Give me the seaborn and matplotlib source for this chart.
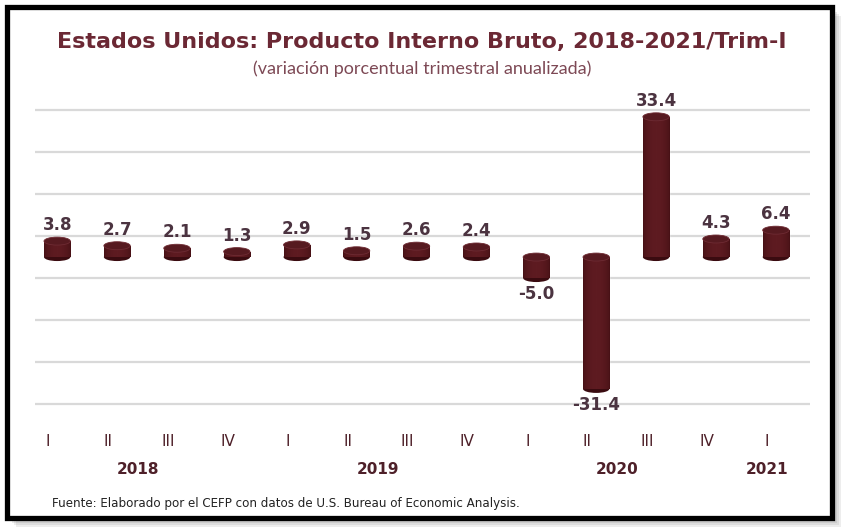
import numpy as np
import pandas as pd
import matplotlib.pyplot as plt
import matplotlib.transforms as mtransforms
from matplotlib.patches import Rectangle, Ellipse
from matplotlib.colors import LinearSegmentedColormap
import seaborn as sns

# datos: variación porcentual trimestral anualizada
trimestres = ["I", "II", "III", "IV", "I", "II", "III", "IV", "I", "II", "III", "IV", "I"]
anios = ["2018", "2018", "2018", "2018", "2019", "2019", "2019", "2019",
         "2020", "2020", "2020", "2020", "2021"]
valores = [3.8, 2.7, 2.1, 1.3, 2.9, 1.5, 2.6, 2.4, -5.0, -31.4, 33.4, 4.3, 6.4]
etiquetas_anio = ["2018", "2019", "2020", "2021"]
pos_anio = [1.5, 5.5, 9.5, 12]

df = pd.DataFrame({"periodo": [a + "-" + t for a, t in zip(anios, trimestres)],
                   "valor": valores})

sns.set_theme(style="white")
plt.rcParams["font.family"] = ["DejaVu Sans"]

granate = "#521519"
texto_valor = "#4b3340"
texto_eje = "#4e2029"

fig = plt.figure(figsize=(8.44, 5.32), dpi=100)
fig.patch.set_facecolor("white")

# sombra y marco (detrás de los ejes)
W, H = 844, 532
for i, a in enumerate([0.10, 0.10, 0.12, 0.15]):
    off = 9 - 2 * i
    fig.add_artist(Rectangle(((7 + off) / W, 1 - (518 + off) / H), 825 / W, 511 / H,
                             transform=fig.transFigure, fc="#555555", ec="none",
                             alpha=a, zorder=-3))
fig.add_artist(Rectangle((7 / W, 1 - 518 / H), 825 / W, 511 / H,
                         transform=fig.transFigure, fc="white", ec="black",
                         lw=3.8, zorder=-2))

ax = fig.add_axes([35 / W, 1 - 420 / H, 775 / W, 320 / H])
ax.set_facecolor("none")

sns.barplot(data=df, x="periodo", y="valor", color=granate, width=0.44,
            saturation=1, ax=ax, zorder=3)

ax.set_yticks([-35, -25, -15, -5, 5, 15, 25, 35])
ax.yaxis.grid(True, color="#d9d9d9", lw=1.6)
ax.set_yticklabels([])
ax.tick_params(axis="y", length=0)
for s in ax.spines.values():
    s.set_visible(False)
ax.set_xlabel("")
ax.set_ylabel("")

# efecto cilindro: degradado horizontal y tapas elípticas
grad = np.linspace(0, 1, 64)
grad = 1 - 0.6 * (2 * grad - 1) ** 2
cmap = LinearSegmentedColormap.from_list("cil", ["#2a0609", "#4e1419", "#5e1b21"])
cap_h = 1.9
for p, v in zip(list(ax.patches), valores):
    x0, w = p.get_x(), p.get_width()
    top = max(p.get_y(), p.get_y() + p.get_height())
    bot = min(p.get_y(), p.get_y() + p.get_height())
    im = ax.imshow(grad[np.newaxis, :], extent=[x0, x0 + w, bot, top], cmap=cmap,
                   aspect="auto", zorder=3.5, vmin=0, vmax=1)
    im.set_clip_path(p)
    ax.add_patch(Ellipse((x0 + w / 2, bot), w, cap_h, fc="#3a0b10", ec="none", zorder=3.2))
    ax.add_patch(Ellipse((x0 + w / 2, top), w, cap_h, fc="#561a20", ec="#6e2b33",
                         lw=0.6, zorder=4))
    if v >= 0:
        ax.annotate(f"{v:.1f}", (x0 + w / 2, top), xytext=(0, 5), textcoords="offset points",
                    ha="center", va="bottom", fontsize=12, fontweight="bold",
                    color=texto_valor, zorder=5)
    else:
        ax.annotate(f"{v:.1f}", (x0 + w / 2, bot), xytext=(0, -5), textcoords="offset points",
                    ha="center", va="top", fontsize=12, fontweight="bold",
                    color=texto_valor, zorder=5)
ax.set_ylim(-38.8, 37.4)
ax.set_xlim(-0.37, 12.57)

ax.set_xticks(range(len(trimestres)))
ax.set_xticklabels(trimestres, fontsize=11, color=texto_eje)
ax.tick_params(axis="x", length=0, pad=10)
desplaza = mtransforms.ScaledTranslation(-9 / 100, 0, fig.dpi_scale_trans)
for lab in ax.get_xticklabels():
    lab.set_transform(lab.get_transform() + desplaza)

tr = mtransforms.blended_transform_factory(ax.transData, fig.transFigure)
for x, t in zip(pos_anio, etiquetas_anio):
    ax.text(x, 1 - 470 / H, t, transform=tr + desplaza, ha="center", va="center",
            fontsize=11, fontweight="bold", color=texto_eje)

fig.text(0.5, 1 - 42 / H, "Estados Unidos: Producto Interno Bruto, 2018-2021/Trim-I",
         ha="center", va="center", fontsize=16, fontweight="bold", color="#6b2834")
fig.text(0.5, 1 - 69 / H, "(variación porcentual trimestral anualizada)",
         ha="center", va="center", fontsize=13, color="#7d4955",
         family=["Lato", "DejaVu Sans"])
fig.text(52 / W, 1 - 503 / H,
         "Fuente: Elaborado por el CEFP con datos de U.S. Bureau of Economic Analysis.",
         ha="left", va="center", fontsize=8.6, color="#222222")

fig.savefig("out.png", dpi=100)
